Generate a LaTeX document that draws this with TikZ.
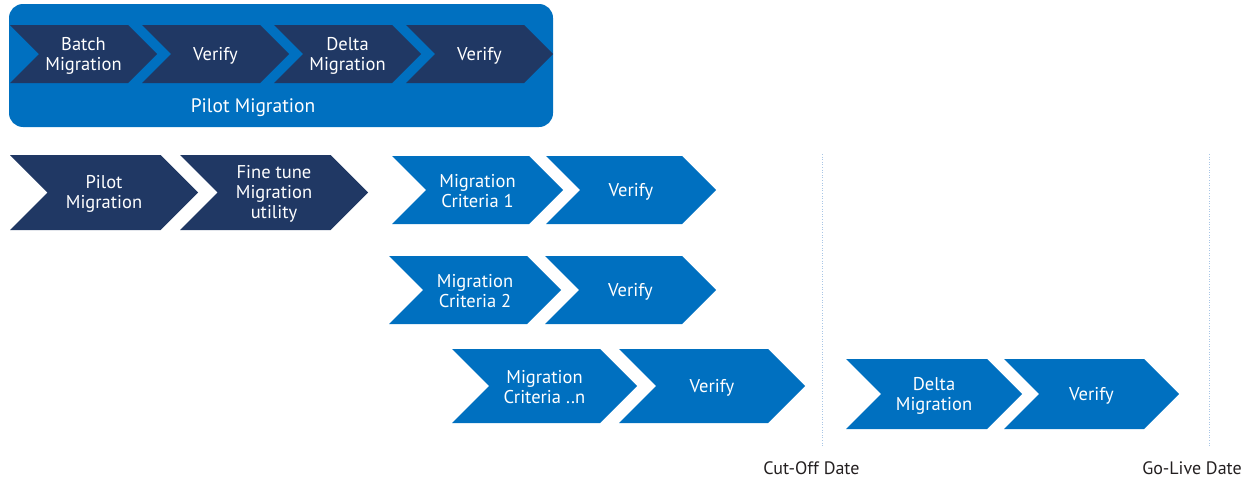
\documentclass[tikz,border=0pt]{standalone}
\usepackage{fontspec}
\setmainfont{PT Sans}
\definecolor{mblue}{HTML}{0070C0}
\definecolor{navy}{HTML}{203864}
\definecolor{dotc}{HTML}{A9C6E6}
\definecolor{txtc}{HTML}{231F20}
\newcommand{\mychev}[7]{%
  \fill[#6] (#2,#3) -- ({#2+#4-#5/2},#3) -- ({#2+#4},{#3+#5/2}) -- ({#2+#4-#5/2},{#3+#5}) -- (#2,{#3+#5}) -- ({#2+#5/2},{#3+#5/2}) -- cycle;
  \node[lbl] (#1) at ({#2+#4/2},{#3+#5/2+1.5}) {#7};
}
\tikzset{
  lbl/.style={text=white, align=center, inner sep=0pt, font=\fontsize{18.5}{20}\selectfont},
  dark/.style={fill=navy},
  light/.style={fill=mblue},
  panel/.style={fill=mblue, rounded corners=14pt},
  dateline/.style={draw=dotc, line width=0.8pt, dash pattern=on 1pt off 1.6pt},
  datelbl/.style={text=txtc, inner sep=0pt, font=\fontsize{18}{20}\selectfont}
}
\begin{document}
\begin{tikzpicture}[x=1pt,y=-1pt]
\useasboundingbox (0,0) rectangle (1253,479);
% top panel
\fill[panel] (9,4) rectangle (553,127);
\mychev{tb}{10}{25}{147}{58}{dark}{Batch\\Migration}
\mychev{tv1}{142}{25}{147}{58}{dark}{Verify}
\mychev{td}{274}{25}{147}{58}{dark}{Delta\\Migration}
\mychev{tv2}{406}{25}{147}{58}{dark}{Verify}
\node[lbl, font=\fontsize{19.5}{22}\selectfont] (ptitle) at (253,108) {Pilot Migration};
% row 2
\mychev{pm}{10}{155}{188}{75}{dark}{Pilot\\Migration}
\mychev{ft}{180}{155}{188}{75}{dark}{Fine tune\\Migration\\utility}
% criteria rows
\mychev{mc1}{392}{156}{171}{68}{light}{Migration\\Criteria 1}
\mychev{v1}{546}{156}{170}{68}{light}{Verify}
\mychev{mc2}{389}{256}{172}{68}{light}{Migration\\Criteria 2}
\mychev{v2}{545}{256}{171}{68}{light}{Verify}
\mychev{mcn}{452}{349}{185}{74}{light}{Migration\\Criteria ..n}
\mychev{vn}{619}{349}{186}{74}{light}{Verify}
\mychev{dm}{846}{359}{176}{70}{light}{Delta\\Migration}
\mychev{vd}{1004}{359}{175}{70}{light}{Verify}
% date lines
\coordinate (cot) at (822,154);
\coordinate (cob) at (822,446);
\coordinate (glt) at (1209,154);
\coordinate (glb) at (1209,446);
\draw[dateline] (cot) -- (cob);
\draw[dateline] (glt) -- (glb);
\node[datelbl] (cod) at (811.5,468) {Cut-Off Date};
\node[datelbl] (gld) at (1192,468) {Go-Live Date};
\end{tikzpicture}
\end{document}
